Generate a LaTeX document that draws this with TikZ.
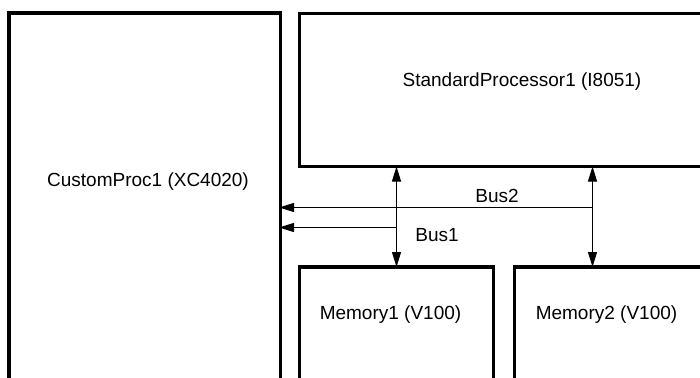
\documentclass[tikz,border=0pt]{standalone}
\usepackage{fontspec}
\setmainfont{Liberation Sans}
\usetikzlibrary{arrows.meta}
\begin{document}
\begin{tikzpicture}[x=1pt,y=-1pt,
  blockbox/.style={draw=black, line width=3.2pt, rectangle, inner sep=0pt, outer sep=0pt},
  lbl/.style={inner sep=0pt, font=\fontsize{19}{22}\selectfont},
  busline/.style={line width=1pt, -{Triangle[length=15pt,width=9pt]}},
  linkline/.style={line width=1pt, {Triangle[length=15pt,width=9pt]}-{Triangle[length=15pt,width=9pt]}}]
\useasboundingbox (0,0) rectangle (700,377);
\clip (0,0) rectangle (700,377);
\fill[white] (0,0) rectangle (700,377);
% blocks
\node[blockbox, minimum width=271.5pt, minimum height=387pt] (cp) at (144.75,206.5) {};
\node[blockbox, minimum width=420.5pt, minimum height=153pt] (sp) at (509.75,90) {};
\node[blockbox, minimum width=194pt, minimum height=133pt] (m1) at (396.5,333.5) {};
\node[blockbox, minimum width=205.5pt, minimum height=133pt] (m2) at (617.25,333.5) {};
% texts
\node[lbl] (cpt) at (148,182) {CustomProc1 (XC4020)};
\node[lbl] (spt) at (522,81.5) {StandardProcessor1 (I8051)};
\node[lbl] (m1t) at (390.5,315) {Memory1 (V100)};
\node[lbl] (m2t) at (606.5,315) {Memory2 (V100)};
% bus connections
\coordinate (x1) at (396.5,0);
\coordinate (x2) at (592.5,0);
\draw[linkline] (x1 |- sp.south) -- (x1 |- m1.north);
\draw[linkline] (x2 |- sp.south) -- (x2 |- m2.north);
\coordinate (bus2) at (592.5,207.5);
\coordinate (bus1) at (396.5,227.5);
\draw[busline, shorten >=-1.5pt] (bus2) -- (bus2 -| cp.east);
\draw[busline, shorten >=-1.5pt] (bus1) -- (bus1 -| cp.east);
\node[lbl] (b2t) at (497,196) {Bus2};
\node[lbl] (b1t) at (437,235) {Bus1};
\end{tikzpicture}
\end{document}
